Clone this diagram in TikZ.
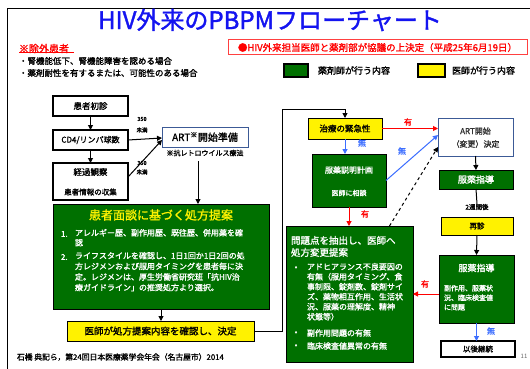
\documentclass[tikz,border=0pt]{standalone}
\usepackage{fontspec}
\setmainfont{Noto Sans CJK JP}
\newfontfamily\jpb{Noto Sans CJK JP}[FakeBold=1.5]
\usetikzlibrary{arrows.meta}
\definecolor{dgreen}{RGB}{0,112,0}
\definecolor{ablue}{RGB}{60,110,255}
\definecolor{ared}{RGB}{255,0,0}
\definecolor{tblue}{RGB}{20,20,240}
\definecolor{sblue}{RGB}{60,90,150}
\newcommand\myfs[2]{\fontsize{#1}{#2}\selectfont}
\begin{document}
\begin{tikzpicture}[x=1pt,y=-1pt,
  every node/.style={inner sep=0pt,outer sep=0pt},
  wbox/.style={draw=black,line width=1.3pt,fill=white},
  gbox/.style={draw=black,line width=1pt,fill=dgreen},
  ybox/.style={draw=black,line width=1pt,fill=yellow},
  bbox/.style={draw=sblue,line width=1pt,fill=white},
  arr/.style={-{Triangle[length=5pt,width=5pt]},line width=1pt},
  barr/.style={arr,draw=ablue},
  rarr/.style={arr,draw=ared},
  wt/.style={text=white,font=\jpb\myfs{8}{10}},
  bt/.style={text=black,font=\jpb\myfs{8.5}{10}},
  rlab/.style={text=ared,font=\jpb\myfs{8}{8}},
  blab/.style={text=ablue,font=\jpb\myfs{8}{8}},
  slab/.style={text=black,font=\jpb\myfs{5.5}{6}}]
\useasboundingbox (0,0) rectangle (530,369);
\fill[white] (0,0) rectangle (530,369);
% frame
\draw[line width=1pt] (7,369) -- (7,9) -- (530,9);
% title
\node[text=tblue,font=\jpb\myfs{24}{24}] (title) at (270,20) {HIV外来のPBPMフローチャート};
% red box
\node[draw=ared!75,line width=1pt,fill=white,minimum width=299pt,minimum height=15pt,text=ared,font=\jpb\myfs{9.5}{9.5}] (rb) at (377.5,47.5) {●HIV外来担当医師と薬剤部が協議の上決定（平成25年6月19日）};
% exclusion
\node[text=ared,font=\jpb\myfs{10}{10},anchor=west] (ex) at (19,48.5) {※除外患者};
\draw[ared,line width=1pt] (ex.south west) ++(0,-1) -- ++(55,0);
\node[bt,font=\jpb\myfs{8.5}{10},anchor=west] (ex1) at (19,61) {・腎機能低下、腎機能障害を認める場合};
\node[bt,font=\jpb\myfs{8.5}{10},anchor=west] (ex2) at (19,73) {・薬剤耐性を有するまたは、可能性のある場合};
% legend
\node[gbox,line width=1.5pt,minimum width=24pt,minimum height=13pt] (lg) at (296,70.5) {};
\node[bt,font=\jpb\myfs{9}{9},anchor=west] (lgt) at (318,70.5) {薬剤師が行う内容};
\node[ybox,line width=1.5pt,minimum width=27pt,minimum height=13pt] (ly) at (431.5,70.5) {};
\node[bt,font=\jpb\myfs{9}{9},anchor=west] (lyt) at (452,70.5) {医師が行う内容};
% left flow
\node[wbox,minimum width=75pt,minimum height=20pt,bt] (n1) at (90.5,106) {患者初診};
\node[wbox,minimum width=75pt,minimum height=20pt,bt,font=\jpb\myfs{8}{8}] (n2) at (90.5,140) {CD4/リンパ球数};
\node[wbox,minimum width=75pt,minimum height=37pt] (n3) at (90.5,181.5) {};
\node[bt] (n3a) at (90.5,172) {経過観察};
\node[bt,font=\jpb\myfs{7.5}{8}] (n3b) at (90.5,192) {患者情報の収集};
\node[bbox,minimum width=86pt,minimum height=20pt,bt,font=\jpb\myfs{10}{10}] (art1) at (205,137) {ART\textsuperscript{※}開始準備};
\node[bt,font=\jpb\myfs{7}{7}] (note) at (205,153) {※抗レトロウイルス療法};
\node[slab] (l1a) at (142,119) {350};
\node[slab] (l1b) at (142,130) {未満};
\node[slab] (l2a) at (142,163) {350};
\node[slab] (l2b) at (142,172) {未満};
\draw[arr] (n1.south) -- (n2.north);
\draw[arr] (n2.south) -- (n3.north);
\draw[arr] (n2.east) -- ([yshift=-1pt]art1.west);
\draw[arr] ([yshift=-14pt]n3.north east) -- ([yshift=-3pt]art1.west);
\coordinate (a1s) at (198,161);
% big green 1
\node[gbox,minimum width=216pt,minimum height=105pt] (g1) at (161,256.5) {};
\draw[arr] (a1s) -- (a1s |- g1.north);
\node[text=yellow,font=\jpb\myfs{12}{12}] (g1t) at (161,215) {患者面談に基づく処方提案};
\node[wt,anchor=west] (g1n1) at (61,234) {1.};
\node[wt,anchor=north west,align=left] (g1i1) at (75,229) {アレルギー歴、副作用歴、既往歴、併用薬を確\\認};
\node[wt,anchor=west] (g1n2) at (61,257) {2.};
\node[wt,anchor=north west,align=left,font=\jpb\myfs{8}{10.6}] (g1i2) at (75,252) {ライフスタイルを確認し、1日1回か1日2回の処\\方レジメンおよび服用タイミングを患者毎に決\\定。レジメンは、厚生労働省研究班「抗HIV治\\療ガイドライン」の推奨処方より選択。};
\node[ybox,minimum width=187pt,minimum height=20pt,bt,font=\jpb\myfs{9.5}{9.5}] (y1) at (160.5,331) {医師が処方提案内容を確認し、決定};
\draw[arr] (g1.south) -- (g1.south |- y1.north);
% right flow
\node[ybox,minimum width=74pt,minimum height=21pt,bt] (y2) at (345,128.5) {治療の緊急性};
\draw[arr] (y1.east) -| (282,109) -| (y2.north);
\node[gbox,minimum width=74pt,minimum height=53pt] (g2) at (349,180.5) {};
\node[wt,font=\jpb\myfs{8}{8}] (g2a) at (349,170) {服薬説明計画};
\node[wt,font=\jpb\myfs{7}{7}] (g2b) at (349,193) {医師に相談};
\node[gbox,minimum width=127pt,minimum height=136pt] (g3) at (349.5,294) {};
\node[wt,font=\jpb\myfs{9.5}{12},anchor=north west,align=left] (g3t) at (291,236) {問題点を抽出し、医師へ\\処方変更提案};
\node[wt] (g3b1) at (296,268) {•};
\node[wt,anchor=north west,align=left,font=\jpb\myfs{8}{10}] (g3i1) at (307,263) {アドヒアランス不良要因の\\有無（服用タイミング、食\\事制限、錠剤数、錠剤サイ\\ズ、薬物相互作用、生活状\\況、服薬の理解度、精神\\状態等）};
\node[wt] (g3b2) at (296,333) {•};
\node[wt,anchor=west] (g3i2) at (307,333) {副作用問題の有無};
\node[wt] (g3b3) at (296,346) {•};
\node[wt,anchor=west] (g3i3) at (307,346) {臨床検査値異常の有無};
\node[bbox,minimum width=75pt,minimum height=38pt] (art2) at (475.5,137) {};
\node[text=black!80,font=\jpb\myfs{8}{8}] (art2a) at (475.5,131) {ART開始};
\node[text=black!80,font=\jpb\myfs{8}{8}] (art2b) at (475.5,144) {（変更）決定};
\node[gbox,minimum width=74pt,minimum height=19pt,wt,font=\jpb\myfs{9}{9}] (g4) at (476,179.5) {服薬指導};
\node[bt,font=\jpb\myfs{6.5}{6.5}] (wk) at (477,207) {2週間後};
\node[ybox,minimum width=72pt,minimum height=18pt,bt,font=\jpb\myfs{7.5}{7.5}] (y3) at (477,226) {再診};
\node[gbox,minimum width=75pt,minimum height=68pt] (g5) at (476.5,289) {};
\node[wt,font=\jpb\myfs{9}{9}] (g5a) at (476.5,268) {服薬指導};
\node[wt,anchor=north west,align=left,font=\jpb\myfs{7}{9.5}] (g5b) at (444,285) {副作用、服薬状\\況、臨床検査値\\に問題};
\node[wbox,minimum width=74pt,minimum height=16pt,bt,font=\jpb\myfs{7.5}{7.5}] (fin) at (478,349) {以後継続};
% right arrows
\draw[rarr] (y2.east) -- (y2.east -| art2.west);
\draw[barr] (y2.south) -- (y2.south |- g2.north);
\draw[barr] (g2.east) -- ([yshift=2pt]art2.west);
\draw[arr,dashed] ([xshift=40pt]g3.north) -- ([yshift=-10pt]art2.west);
\draw[rarr] (g2.south) -- (g2.south |- g3.north);
\draw[arr] (art2.south) -- (g4.north);
\draw[line width=1pt] (g4.south) -- (wk.north);
\draw[arr] (y3.south) -- (g5.north);
\draw[rarr] ([yshift=-5pt]g5.west) -- ([yshift=-5pt]g5.west -| g3.east);
\draw[barr] (g5.south) -- (g5.south |- fin.north);
% arrow labels
\node[rlab] (r1) at (408,122) {有};
\node[blab] (b1) at (362,143) {無};
\node[blab] (b2) at (402,151) {無};
\node[rlab] (r2) at (365,214) {有};
\node[rlab] (r3) at (425,284) {有};
\node[blab] (b3) at (491,331) {無};
% footer
\node[bt,font=\jpb\myfs{7.8}{8},anchor=west] (foot) at (17,357) {石橋 典記ら，第24回日本医療薬学会年会（名古屋市）2014};
\node[text=black!60,font=\myfs{6}{6}] (pg) at (524,356) {11};
\end{tikzpicture}
\end{document}
